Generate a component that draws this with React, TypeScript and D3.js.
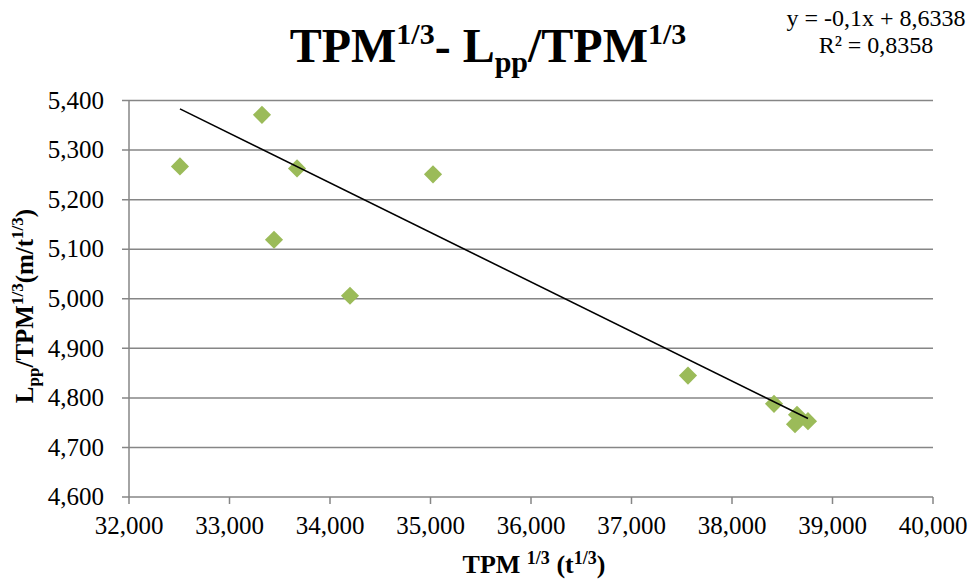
import React from "react";
import * as d3 from "d3";

// TPM^(1/3) values (t^(1/3)) and Lpp/TPM^(1/3) ratios (m/t^(1/3))
const tpmCubeRoot = [32.507, 33.323, 33.672, 33.443, 34.199, 35.025, 37.562, 38.418, 38.647, 38.627, 38.756];
const lppRatio = [5.267, 5.371, 5.263, 5.119, 5.006, 5.251, 4.845, 4.788, 4.766, 4.747, 4.753];

// Linear trend as reported: y = -0,1x + 8,6338
const trendSlope = -0.1;
const trendIntercept = 8.6338;
const equationLabel = "y = -0,1x + 8,6338";
const rSquaredLabel = "R² = 0,8358";

const xTicks = [32, 33, 34, 35, 36, 37, 38, 39, 40];
const yTicks = [4.6, 4.7, 4.8, 4.9, 5.0, 5.1, 5.2, 5.3, 5.4];

const W = 974;
const H = 581;
const plot = { left: 129, right: 933, top: 100.5, bottom: 497 };

const FONT = "'Liberation Serif', 'Times New Roman', serif";
const GRID = "#868686";
const MARKER = "#9BBB59";

export default function App() {
  const x = d3.scaleLinear().domain([32, 40]).range([plot.left, plot.right]);
  const y = d3.scaleLinear().domain([4.6, 5.4]).range([plot.bottom, plot.top]);

  const xMin = d3.min(tpmCubeRoot) as number;
  const xMax = d3.max(tpmCubeRoot) as number;
  const trend = d3.line<number>()
    .x((d) => x(d))
    .y((d) => y(trendSlope * d + trendIntercept));

  const diamond = d3.symbol().type(d3.symbolDiamond2).size(210)();

  // thousands formatted as "32,000" (comma as decimal separator)
  const xLabel = (v: number) => `${v},000`;
  const yLabel = (v: number) => v.toFixed(3).replace(".", ",");

  return (
    <svg width={W} height={H} style={{ position: "absolute", left: 0, top: 0, background: "#fff" }} fontFamily={FONT}>
      {/* horizontal gridlines */}
      {yTicks.map((t) => (
        <line key={t} x1={plot.left - 7} x2={plot.right} y1={y(t)} y2={y(t)} stroke={GRID} strokeWidth={1.5} />
      ))}
      {/* left axis */}
      <line x1={plot.left} x2={plot.left} y1={plot.top} y2={plot.bottom} stroke={GRID} strokeWidth={1.5} />
      {/* bottom tick marks */}
      {xTicks.map((t) => (
        <line key={t} x1={x(t)} x2={x(t)} y1={plot.bottom} y2={plot.bottom + 7} stroke={GRID} strokeWidth={1.5} />
      ))}
      {/* y tick labels */}
      {yTicks.map((t) => (
        <text key={t} x={104} y={y(t)} dy="0.33em" textAnchor="end" fontSize={25} fill="#000">
          {yLabel(t)}
        </text>
      ))}
      {/* x tick labels */}
      {xTicks.map((t) => (
        <text key={t} x={x(t)} y={534} textAnchor="middle" fontSize={25} fill="#000">
          {xLabel(t)}
        </text>
      ))}
      {/* points */}
      {tpmCubeRoot.map((v, i) => (
        <path key={i} d={diamond} transform={`translate(${x(v)},${y(lppRatio[i])})`} fill={MARKER} />
      ))}
      {/* trend line */}
      <path d={trend([xMin, xMax]) as string} fill="none" stroke="#000" strokeWidth={1.6} />

      {/* title */}
      <text x={488} y={62} textAnchor="middle" fontWeight="bold" fontSize={48} fill="#000">
        <tspan>TPM</tspan>
        <tspan fontSize={30} dy={-18}>1/3</tspan>
        <tspan dy={18}>- L</tspan>
        <tspan fontSize={30} dy={10}>pp</tspan>
        <tspan dy={-10}>/TPM</tspan>
        <tspan fontSize={30} dy={-18}>1/3</tspan>
      </text>

      {/* regression annotation */}
      <text x={876} y={26} textAnchor="middle" fontSize={24} fill="#000">{equationLabel}</text>
      <text x={876} y={53} textAnchor="middle" fontSize={24} fill="#000">{rSquaredLabel}</text>

      {/* y axis title */}
      <text transform="translate(33,306) rotate(-90)" textAnchor="middle" fontWeight="bold" fontSize={25} fill="#000">
        <tspan>L</tspan>
        <tspan fontSize={17} dy={6}>pp</tspan>
        <tspan dy={-6}>/TPM</tspan>
        <tspan fontSize={17} dy={-10}>1/3</tspan>
        <tspan dy={10}>(m/t</tspan>
        <tspan fontSize={17} dy={-10}>1/3</tspan>
        <tspan dy={10}>)</tspan>
      </text>

      {/* x axis title */}
      <text x={534} y={573} textAnchor="middle" fontWeight="bold" fontSize={26} fill="#000">
        <tspan>TPM </tspan>
        <tspan fontSize={18} dy={-9}>1/3</tspan>
        <tspan dy={9}> (t</tspan>
        <tspan fontSize={18} dy={-9}>1/3</tspan>
        <tspan dy={9}>)</tspan>
      </text>
    </svg>
  );
}
